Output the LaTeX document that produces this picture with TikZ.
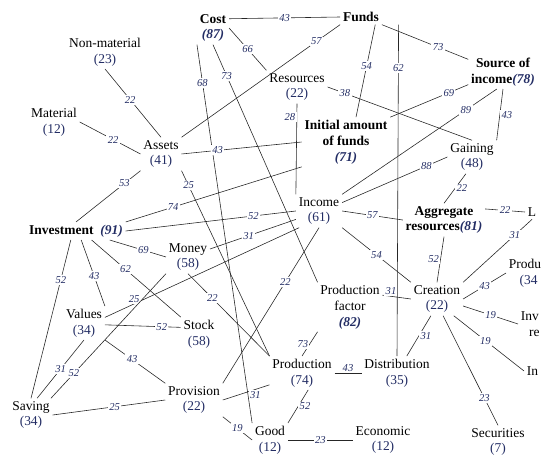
\documentclass[tikz,border=0pt]{standalone}
\usepackage{fontspec}
\setmainfont{Liberation Serif}
\usepackage{xcolor}
\definecolor{numc}{RGB}{35,45,100}
\newcommand{\cnt}[1]{\textcolor{numc}{#1}}

\begin{document}
\begin{tikzpicture}[ % picture in pixel units, y pointing down
        x=0.03cm, y=-0.03cm,
        term/.style={align=center, inner sep=1.5pt, outer sep=1pt, font=\fontsize{11.5}{13.5}\selectfont}, % plain concept
        bterm/.style={term, font=\fontsize{11.5}{13.5}\selectfont\bfseries}, % bold concept
        lbl/.style={fill=white, inner sep=1.2pt, text=numc, font=\fontsize{9}{10}\selectfont\itshape}, % weight on a link
        link/.style={draw=black!85, line width=0.5pt} % plain link
    ]
    \useasboundingbox (0,0) rectangle (543,459);
    \clip (0,0) rectangle (543,459);
    % --- Concepts ---
    \node (cost) [bterm] at (213,28) {Cost\\\cnt{\textit{(87)}}};
    \node (funds) [bterm] at (361,17) {Funds};
    \node (nonmat) [term] at (105,52) {Non-material\\\cnt{(23)}};
    \node (mat) [term] at (54,122) {Material\\\cnt{(12)}};
    \node (assets) [term] at (161,154) {Assets\\\cnt{(41)}};
    \node (res) [term] at (297,87) {Resources\\\cnt{(22)}};
    \node (source) [bterm] at (503,72) {Source of\\income\cnt{\textit{(78)}}};
    \node (initial) [bterm] at (346,142) {Initial amount\\of funds\\\cnt{\textit{(71)}}};
    \node (gaining) [term] at (472,157) {Gaining\\\cnt{(48)}};
    \node (invest) [bterm] at (76,231) {Investment~~\cnt{\textit{(91)}}};
    \node (income) [term] at (319,211) {Income\\\cnt{(61)}};
    \node (aggr) [bterm] at (444,220) {Aggregate\\resources\cnt{\textit{(81)}}};
    \node (lab) [term, anchor=west] at (525,212) {L};
    \node (money) [term] at (188,257) {Money\\\cnt{(58)}};
    \node (prodfac) [term] at (350,307) {Production\\factor\\\cnt{\textbf{\textit{(82)}}}};
    \node (creation) [term] at (437,299) {Creation\\\cnt{(22)}};
    \node (produ) [term, anchor=west, align=left] at (506,273) {Produ\\\hspace*{0.8em}\cnt{(34}};
    \node (values) [term] at (84,323) {Values\\\cnt{(34)}};
    \node (stock) [term] at (199,334) {Stock\\\cnt{(58)}};
    \node (inv) [term, anchor=west, align=left] at (518,324) {Inv\\\hspace*{0.6em}re};
    \node (production) [term] at (302,373) {Production\\\cnt{(74)}};
    \node (distrib) [term] at (397,373) {Distribution\\\cnt{(35)}};
    \node (inn) [term, anchor=west] at (524,371) {In};
    \node (saving) [term] at (31,415) {Saving\\\cnt{(34)}};
    \node (provision) [term] at (194,400) {Provision\\\cnt{(22)}};
    \node (good) [term] at (270,440) {Good\\\cnt{(12)}};
    \node (econ) [term] at (383,440) {Economic\\\cnt{(12)}};
    \node (secur) [term] at (498,442) {Securities\\\cnt{(7)}};
    % --- Links with their weights ---
    \draw[link] (cost.30) -- node[lbl] {43} (funds.west);
    \draw[link] (cost.east) -- node[lbl] {66} (res.north west);
    \draw[link] (cost.south west) -- node[lbl, pos=.1] {68} (good.north west);
    \draw[link] (cost.south) -- node[lbl, pos=.13] {73} (prodfac.north west);
    \draw[link] (assets.north east) -- node[lbl, pos=.85] {57} (funds.south west);
    \draw[link] (nonmat.south) -- node[lbl, pos=.45] {22} (assets.north);
    \draw[link] (mat.east) -- node[lbl, pos=.55] {22} (assets.west);
    \draw[link] (assets.east) -- node[lbl, pos=.3] {43} (initial.west);
    \draw[link] (assets.south east) -- node[lbl, pos=.08] {25} (production.north west);
    \draw[link] (invest.north) -- node[lbl, pos=.75] {53} (assets.south west);
    \draw[link] (invest.north east) -- node[lbl, pos=.27] {74} (initial.south west);
    \draw[link] (invest.east) -- node[lbl, pos=.75] {52} (income.west);
    \draw[link] (invest.-15) -- node[lbl, pos=.6] {69} (money.west);
    \draw[link] (invest.-30) -- node[lbl, pos=.38] {62} (stock.north west);
    \draw[link] (invest.-60) -- node[lbl, pos=.55] {43} (values.north east);
    \draw[link] (invest.-120) -- node[lbl, pos=.25] {52} (saving.north);
    \draw[link] (money.20) -- node[lbl, pos=.45] {31} (income.200);
    \draw[link] (values.15) -- node[lbl, pos=.15, above] {25} (income.220);
    \draw[link] (values.-5) -- node[lbl, pos=.75] {52} (stock.160);
    \draw[link] (values.south east) -- node[lbl, pos=.45] {43} (provision.north west);
    \draw[link] (values.south) -- node[lbl] {31} (saving.70);
    \draw[link] (saving.40) -- node[lbl, pos=.2] {52} (money.south west);
    \draw[link] (saving.east) -- node[lbl, pos=.55] {25} (provision.west);
    \draw[link] (provision.south east) -- node[lbl] {19} (good.west);
    \draw[link] (provision.east) -- node[lbl, pos=.7, below] {31} (production.200);
    \draw[link] (production.-70) -- node[lbl, right] {52} (good.north east);
    \draw[link] (good.east) -- node[lbl] {23} (econ.west);
    \draw[link] (production.east) -- node[lbl, above] {43} (distrib.west);
    \draw[link] (production.north) -- node[lbl, left] {73} (prodfac.south west);
    \draw[link] (prodfac.20) -- node[lbl, pos=.3, above] {31} (creation.west);
    \draw[link] (creation.250) -- node[lbl, right] {31} (distrib.60);
    \draw[link] (creation.-70) -- node[lbl, pos=.75] {23} (secur.north);
    \draw[link] (creation.-45) -- node[lbl, pos=.45] {19} (inn.west);
    \draw[link] (creation.-15) -- node[lbl] {19} (inv.west);
    \draw[link] (creation.east) -- node[lbl] {43} (produ.west);
    \draw[link] (creation.north east) -- node[lbl, pos=.75] {31} (lab.south);
    \draw[link] (aggr.south) -- node[lbl, left] {52} (creation.north);
    \draw[link] (income.south east) -- node[lbl] {54} (creation.north west);
    \draw[link] (income.east) -- node[lbl] {57} (aggr.west);
    \draw[link] (income.20) -- node[lbl, pos=.8] {88} (gaining.west);
    \draw[link] (income.north east) -- node[lbl, pos=.8] {89} (source.250);
    \draw[link] (initial.north east) -- node[lbl, pos=.75] {69} (source.200);
    \draw[link] ([xshift=-2mm]funds.south east) -- node[lbl, pos=.45] {54} ([xshift=3mm]initial.north);
    \draw[link] ([xshift=5mm]funds.south east) -- node[lbl, pos=.13] {62} (distrib.north);
    \draw[link] (funds.south east) -- node[lbl, pos=.65] {73} (source.160);
    \draw[link] (res.east) -- node[lbl, pos=.12] {38} (gaining.north);
    \draw[link] (res.south) -- node[lbl, pos=.15, left] {28} (income.north west);
    \draw[link] (source.south) -- node[lbl, right] {43} (gaining.north east);
    \draw[link] (gaining.250) -- node[lbl, right] {22} (aggr.north);
    \draw[link] (aggr.15) -- node[lbl] {22} (lab.west);
    \draw[link] (money.south) -- node[lbl, pos=.3] {22} (production.north west);
    \draw[link] (income.south) -- node[lbl, pos=.35] {22} (provision.north east);
\end{tikzpicture}
\end{document}
